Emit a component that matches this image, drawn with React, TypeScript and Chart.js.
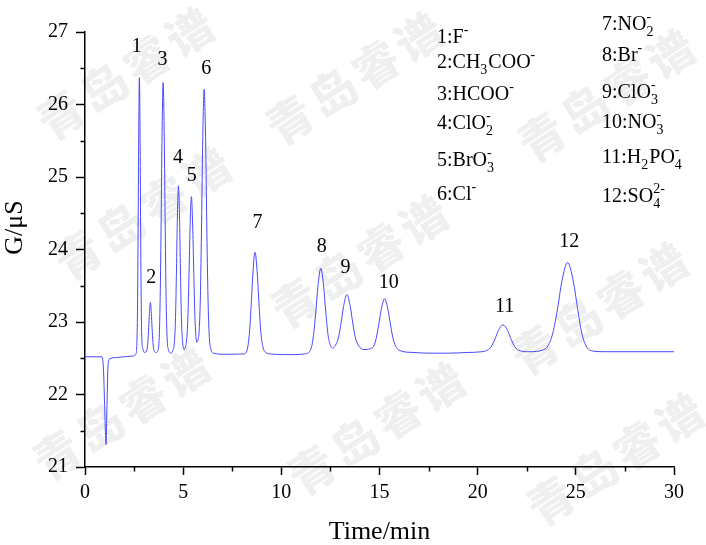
import React, { useEffect, useRef } from "react";
import { Chart, registerables } from "chart.js";

Chart.register(...registerables);

// ---- Data ----
const retentionTime = [
  0, 0.86, 0.94, 1.0, 1.07, 1.12, 1.17, 1.25, 1.6, 2.4,
  2.58, 2.65, 2.68, 2.71, 2.734, 2.77, 2.806, 2.83, 2.86, 2.89, 2.95,
  3.03, 3.16, 3.2, 3.245, 3.28, 3.33, 3.38, 3.415, 3.46, 3.51,
  3.62, 3.72, 3.78, 3.83, 3.88, 3.92, 3.98, 4.04, 4.08, 4.13, 4.18, 4.25,
  4.37, 4.48, 4.56, 4.61, 4.66, 4.7, 4.76, 4.82, 4.86, 4.91, 4.96,
  5.06, 5.12, 5.18, 5.24, 5.3, 5.348, 5.42, 5.49, 5.54, 5.6, 5.65,
  5.69, 5.76, 5.81, 5.875, 5.94, 5.99, 6.07, 6.15, 6.2, 6.265, 6.33, 6.41, 6.55,
  7.2, 8.1, 8.28, 8.375, 8.47, 8.546, 8.66, 8.78, 8.86, 8.96, 9.06, 9.2, 9.6,
  10.6, 11.2, 11.51, 11.635, 11.76, 11.86, 12.01, 12.16, 12.26, 12.385, 12.5,
  12.62, 12.76, 12.905, 13.05, 13.166, 13.34, 13.514, 13.63, 13.775, 13.92,
  14.2, 14.66, 14.81, 14.96, 15.08, 15.26, 15.44, 15.56, 15.71, 15.86, 16.1,
  16.7, 17.5, 18.5, 19.5, 20.2, 20.49, 20.69, 20.89, 21.05, 21.29, 21.53, 21.69,
  21.89, 22.09, 22.6, 23.0, 23.28, 23.58, 23.83, 24.08, 24.28, 24.58, 24.88,
  25.08, 25.3, 25.52, 25.85, 26.5, 30,
];

const conductivity = [
  22.52, 22.52, 22.35, 21.85, 21.31, 21.85, 22.38, 22.49, 22.51, 22.53,
  22.55, 22.78, 23.34, 24.46, 25.53, 26.37, 25.53, 24.46, 23.34, 22.8, 22.63,
  22.58, 22.62, 22.72, 22.92, 23.12, 23.27, 23.12, 22.92, 22.72, 22.61,
  22.58, 22.61, 22.79, 23.35, 24.43, 25.48, 26.3, 25.48, 24.43, 23.35, 22.79, 22.62,
  22.57, 22.61, 22.74, 23.06, 23.73, 24.37, 24.88, 24.37, 23.73, 23.06, 22.76,
  22.62, 22.66, 22.76, 23.06, 23.68, 24.27, 24.73, 24.27, 23.68, 23.06, 22.8,
  22.72, 22.76, 22.86, 23.33, 24.39, 25.41, 26.21, 25.41, 24.39, 23.33, 22.8, 22.63, 22.57,
  22.555, 22.56, 22.64, 22.85, 23.26, 23.65, 23.96, 23.65, 23.26, 22.85, 22.66, 22.58, 22.555,
  22.55, 22.56, 22.63, 22.81, 23.15, 23.48, 23.74, 23.48, 23.15, 22.81, 22.68,
  22.64, 22.68, 22.78, 23.0, 23.21, 23.38, 23.21, 23.0, 22.78, 22.68,
  22.62, 22.65, 22.75, 22.96, 23.16, 23.32, 23.16, 22.96, 22.75, 22.65, 22.6,
  22.58, 22.57, 22.57, 22.58, 22.59, 22.61, 22.66, 22.77, 22.88, 22.96, 22.88, 22.77,
  22.66, 22.61, 22.59, 22.595, 22.61, 22.67, 22.85, 23.2, 23.55, 23.82, 23.55,
  23.2, 22.85, 22.67, 22.6, 22.59, 22.59,
];

const peakNumbers = ["1", "2", "3", "4", "5", "6", "7", "8", "9", "10", "11", "12"];
const peakLabelTime = [2.635, 3.38, 3.95, 4.74, 5.44, 6.17, 8.79, 12.06, 13.27, 15.47, 21.37, 24.67];
const peakLabelLevel = [26.73, 23.54, 26.54, 25.2, 24.95, 26.42, 24.3, 23.97, 23.67, 23.47, 23.14, 24.04];

type Part = { t?: string; sub?: string; sup?: string };
const ionFormulas: Part[][] = [
  [{ t: "F" }, { sup: "-" }],
  [{ t: "CH" }, { sub: "3" }, { t: "COO" }, { sup: "-" }],
  [{ t: "HCOO" }, { sup: "-" }],
  [{ t: "ClO" }, { sub: "2", sup: "-" }],
  [{ t: "BrO" }, { sub: "3", sup: "-" }],
  [{ t: "Cl" }, { sup: "-" }],
  [{ t: "NO" }, { sub: "2", sup: "-" }],
  [{ t: "Br" }, { sup: "-" }],
  [{ t: "ClO" }, { sub: "3", sup: "-" }],
  [{ t: "NO" }, { sub: "3", sup: "-" }],
  [{ t: "H" }, { sub: "2" }, { t: "PO" }, { sub: "4", sup: "-" }],
  [{ t: "SO" }, { sub: "4", sup: "2-" }],
];

const xTitle = "Time/min";
const yTitle = "G/μS";
const watermarkText = "青岛睿谱";

// ---- Layout / style constants ----
const W = 706;
const H = 545;
const SERIF = "'Times New Roman', 'Liberation Serif', Times, serif";
const LINE_COLOR = "rgb(72,72,255)";
const legendCol1 = { left: 437, baselines: [42.7, 68.3, 100, 129.3, 166, 200] };
const legendCol2 = { left: 602, baselines: [30, 61, 98.3, 128.3, 163.3, 201.7] };
const watermarkCenters = [
  [126, 70], [143, 210], [122, 410],
  [355, 75], [360, 258], [377, 425],
  [607, 92], [600, 305], [616, 456],
];

function smallWidth(s: string) {
  let w = 0;
  for (const ch of s) w += ch === "-" ? 0.34 : 0.5;
  return w * 14;
}

function Formula({ parts }: { parts: Part[] }) {
  return (
    <>
      {parts.map((p, i) => {
        if (p.t) return <span key={i}>{p.t}</span>;
        const wd = Math.max(smallWidth(p.sub || ""), smallWidth(p.sup || "")) + 1;
        return (
          <span
            key={i}
            style={{ display: "inline-block", position: "relative", width: wd, height: 16 }}
          >
            {p.sup && (
              <span style={{ position: "absolute", left: 0, top: -4, fontSize: 14, lineHeight: "14px" }}>
                {p.sup}
              </span>
            )}
            {p.sub && (
              <span style={{ position: "absolute", left: 0, top: 11, fontSize: 14, lineHeight: "14px" }}>
                {p.sub}
              </span>
            )}
          </span>
        );
      })}
    </>
  );
}

const minorTicksPlugin = {
  id: "minorTicks",
  afterDraw(chart: any) {
    const { ctx } = chart;
    const xs = chart.scales.x;
    const ys = chart.scales.y;
    ctx.save();
    ctx.strokeStyle = "#000";
    ctx.lineWidth = 1.5;
    const xt = xs.ticks.map((t: any) => t.value);
    for (let i = 0; i < xt.length - 1; i++) {
      const px = Math.round(xs.getPixelForValue((xt[i] + xt[i + 1]) / 2)) + 0.5;
      ctx.beginPath();
      ctx.moveTo(px, ys.bottom);
      ctx.lineTo(px, ys.bottom + 4.5);
      ctx.stroke();
    }
    const yt = ys.ticks.map((t: any) => t.value);
    for (let i = 0; i < yt.length - 1; i++) {
      const py = Math.round(ys.getPixelForValue((yt[i] + yt[i + 1]) / 2)) + 0.5;
      ctx.beginPath();
      ctx.moveTo(xs.left, py);
      ctx.lineTo(xs.left - 4.5, py);
      ctx.stroke();
    }
    // y axis title
    ctx.fillStyle = "#000";
    ctx.font = `26px ${SERIF}`;
    ctx.translate(xs.left - 63, 227.5);
    ctx.rotate(-Math.PI / 2);
    ctx.textAlign = "center";
    ctx.textBaseline = "alphabetic";
    ctx.fillText(yTitle, 0, 0);
    ctx.restore();
  },
};

const peakLabelPlugin = {
  id: "peakLabels",
  afterDatasetsDraw(chart: any) {
    const { ctx } = chart;
    const xs = chart.scales.x;
    const ys = chart.scales.y;
    ctx.save();
    ctx.fillStyle = "#000";
    ctx.font = `20px ${SERIF}`;
    ctx.textAlign = "center";
    ctx.textBaseline = "alphabetic";
    peakNumbers.forEach((n, i) => {
      ctx.fillText(n, xs.getPixelForValue(peakLabelTime[i]), ys.getPixelForValue(peakLabelLevel[i]));
    });
    ctx.restore();
  },
};

export default function App() {
  const canvasRef = useRef<HTMLCanvasElement | null>(null);

  useEffect(() => {
    const canvas = canvasRef.current;
    if (!canvas) return;
    const points = retentionTime.map((t, i) => ({ x: t, y: conductivity[i] }));
    const tickFont = { family: SERIF, size: 20 };
    const chart = new Chart(canvas, {
      type: "line",
      data: {
        datasets: [
          {
            data: points,
            borderColor: LINE_COLOR,
            borderWidth: 1,
            pointRadius: 0,
            fill: false,
            cubicInterpolationMode: "monotone",
          } as any,
        ],
      },
      options: {
        responsive: false,
        animation: false,
        devicePixelRatio: 1,
        layout: { padding: { top: 32, right: 32, left: 0, bottom: 0 } },
        plugins: { legend: { display: false }, tooltip: { enabled: false } },
        scales: {
          x: {
            type: "linear",
            min: 0,
            max: 30,
            ticks: { stepSize: 5, color: "#000", font: tickFont, padding: 6, maxRotation: 0 },
            grid: { drawOnChartArea: false, drawTicks: true, tickLength: 8, tickColor: "#000", tickWidth: 1.5 },
            border: { display: true, color: "#000", width: 1.5 },
            title: { display: true, text: xTitle, color: "#000", font: { family: SERIF, size: 26 }, padding: { top: 0, bottom: -3 } },
            afterFit: (s: any) => {
              s.height = 78;
            },
          },
          y: {
            type: "linear",
            min: 21,
            max: 27,
            ticks: { stepSize: 1, color: "#000", font: tickFont, padding: 8 },
            grid: { drawOnChartArea: false, drawTicks: true, tickLength: 9, tickColor: "#000", tickWidth: 1.5 },
            border: { display: true, color: "#000", width: 1.5 },
            afterFit: (s: any) => {
              s.width = 85;
            },
          },
        },
      } as any,
      plugins: [minorTicksPlugin, peakLabelPlugin],
    });
    return () => chart.destroy();
  }, []);

  const legendRows = [
    ...legendCol1.baselines.map((b, i) => ({ left: legendCol1.left, base: b, idx: i })),
    ...legendCol2.baselines.map((b, i) => ({ left: legendCol2.left, base: b, idx: i + 6 })),
  ];

  return (
    <div style={{ position: "absolute", left: 0, top: 0, width: W, height: H, background: "#fff", overflow: "hidden" }}>
      {watermarkCenters.map(([cx, cy], i) => (
        <div
          key={"wm" + i}
          style={{
            position: "absolute",
            left: cx,
            top: cy,
            transform: "translate(-50%, -50%) rotate(-33deg)",
            whiteSpace: "nowrap",
            fontFamily: "'Noto Sans CJK SC', sans-serif",
            fontWeight: 900,
            fontSize: 46,
            letterSpacing: 5,
            lineHeight: "46px",
            color: "rgba(0,0,0,0.075)",
          }}
        >
          {watermarkText}
        </div>
      ))}
      <canvas ref={canvasRef} width={W} height={H} style={{ position: "absolute", left: 0, top: 0, width: W, height: H }} />
      {legendRows.map((r) => (
        <div
          key={"lg" + r.idx}
          style={{
            position: "absolute",
            left: r.left,
            top: r.base - 17,
            fontFamily: SERIF,
            fontSize: 20,
            lineHeight: "20px",
            color: "#000",
            whiteSpace: "nowrap",
          }}
        >
          {peakNumbers[r.idx]}:<Formula parts={ionFormulas[r.idx]} />
        </div>
      ))}
    </div>
  );
}
